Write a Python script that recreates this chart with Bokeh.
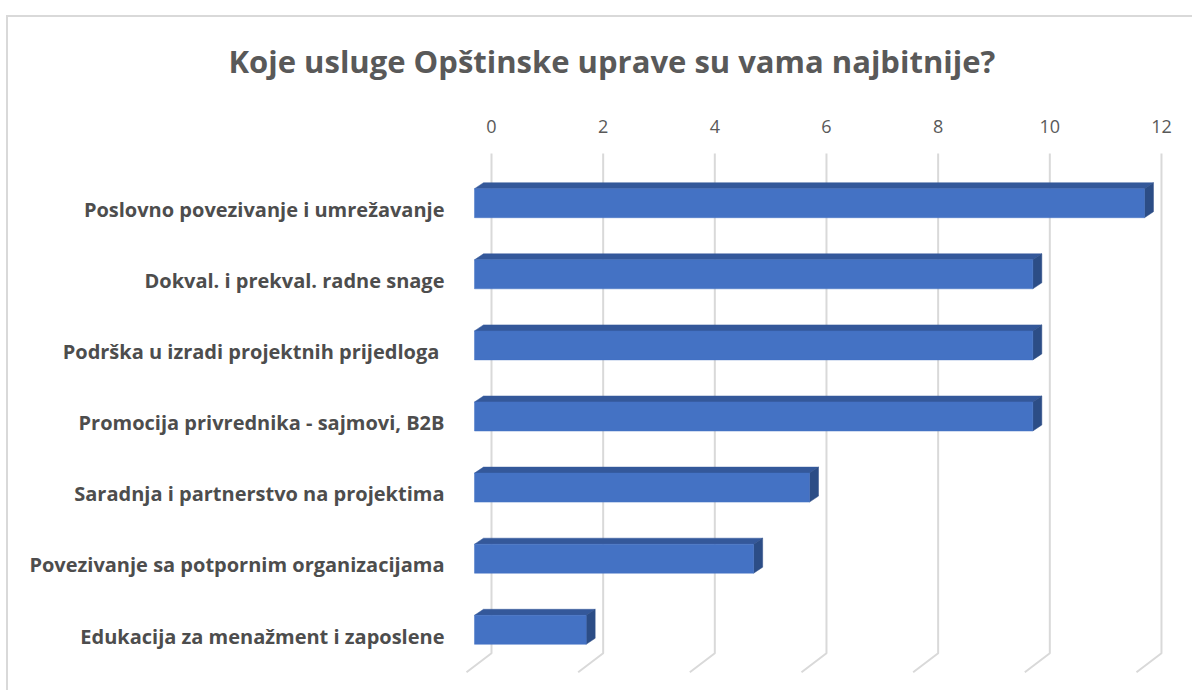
from bokeh.plotting import figure
from bokeh.models import Range1d, FixedTicker, ColumnDataSource
from bokeh.embed import file_html
from bokeh.resources import INLINE

# ---- data ----
categories = [
    "Poslovno povezivanje i umrežavanje",
    "Dokval. i prekval. radne snage",
    "Podrška u izradi projektnih prijedloga ",
    "Promocija privrednika - sajmovi, B2B",
    "Saradnja i partnerstvo na projektima",
    "Povezivanje sa potpornim organizacijama",
    "Edukacija za menažment i zaposlene",
]
values = [12, 10, 10, 10, 6, 5, 2]
x_ticks = [0, 2, 4, 6, 8, 10, 12]
title_text = "Koje usluge Opštinske uprave su vama najbitnije?"

# ---- 3D style constants (pixel based, converted to data units) ----
PX_X = 55.83          # px per value unit
PX_Y = 71.1           # px per category slot
FRONT_DX = -17 / PX_X     # front plane shift from back plane (x)
FRONT_DY = -6.3 / PX_Y    # bar front face centre shift vs label (y)
BAR_H = 29 / PX_Y         # front face height
DEPTH_DX = 9 / PX_X       # bar depth (x)
DEPTH_DY = -6 / PX_Y      # bar depth (y, upwards)
GRID_TOP = -56 / PX_Y
GRID_FLOOR = 443.7 / PX_Y
FLOOR_DX = -25 / PX_X
FLOOR_DY = 19 / PX_Y

FRONT = "#4472C4"
TOP = "#34589A"
SIDE = "#2C4D86"
GRID = "#D9D9D9"

W, H = 1192, 690
p = figure(width=W, height=H, output_backend="svg", toolbar_location=None,
           x_range=Range1d(-0.6448, 12.520), y_range=Range1d(6.695, -0.830),
           x_axis_location="above", min_border_left=455, min_border_right=2,
           min_border_top=150, min_border_bottom=5)
p.outline_line_color = None
p.border_fill_color = None
p.background_fill_color = None
p.xgrid.visible = False
p.ygrid.visible = False

# gridlines with 3D floor
gx, gy = [], []
for t in x_ticks:
    gx.append([t, t, t + FLOOR_DX])
    gy.append([GRID_TOP, GRID_FLOOR, GRID_FLOOR + FLOOR_DY])
p.multi_line(gx, gy, line_color=GRID, line_width=2)

# bars
idx = list(range(len(categories)))
left = [FRONT_DX for _ in values]
right = [v + FRONT_DX for v in values]
yc = [i + FRONT_DY for i in idx]
ytop = [y - BAR_H / 2 for y in yc]
ybot = [y + BAR_H / 2 for y in yc]

top_xs = [[l, l + DEPTH_DX, r + DEPTH_DX, r] for l, r in zip(left, right)]
top_ys = [[t, t + DEPTH_DY, t + DEPTH_DY, t] for t in ytop]
side_xs = [[r, r + DEPTH_DX, r + DEPTH_DX, r] for r in right]
side_ys = [[t, t + DEPTH_DY, b + DEPTH_DY, b] for t, b in zip(ytop, ybot)]

p.patches(top_xs, top_ys, fill_color=TOP, line_color=TOP, line_width=0.5)
p.patches(side_xs, side_ys, fill_color=SIDE, line_color=SIDE, line_width=0.5)
src = ColumnDataSource(dict(y=yc, left=left, right=right))
p.hbar(y="y", left="left", right="right", height=BAR_H, source=src,
       fill_color=FRONT, line_color=FRONT, line_width=0.5)

# x axis (top)
xa = p.xaxis[0]
xa.ticker = FixedTicker(ticks=x_ticks)
xa.axis_line_color = None
xa.major_tick_line_color = None
xa.minor_tick_line_color = None
xa.major_label_text_font = "Open Sans"
xa.major_label_text_font_size = "18px"
xa.major_label_text_color = "#595959"
xa.major_label_standoff = 12

# y axis (categories)
ya = p.yaxis[0]
ya.ticker = FixedTicker(ticks=idx)
ya.major_label_overrides = {i: c for i, c in zip(idx, categories)}
ya.axis_line_color = None
ya.major_tick_line_color = None
ya.minor_tick_line_color = None
ya.major_label_text_font = "Open Sans"
ya.major_label_text_font_style = "bold"
ya.major_label_text_font_size = "20px"
ya.major_label_text_color = "#4D4D4D"
ya.major_label_standoff = 5

# title
p.title.text = title_text
p.title.align = "left"
p.title.offset = -227
p.title.standoff = 70
p.title.text_font = "Open Sans"
p.title.text_font_style = "bold"
p.title.text_font_size = "31px"
p.title.text_color = "#595959"

# chart-area border (top and left edges) behind the transparent canvas
p.styles = {
    "background": ("linear-gradient(#D9D9D9, #D9D9D9) 6px 15px / 100% 2px no-repeat, "
                   "linear-gradient(#D9D9D9, #D9D9D9) 6px 15px / 2px 100% no-repeat, #FFFFFF"),
}

open("out.html", "w").write(file_html(p, INLINE))
